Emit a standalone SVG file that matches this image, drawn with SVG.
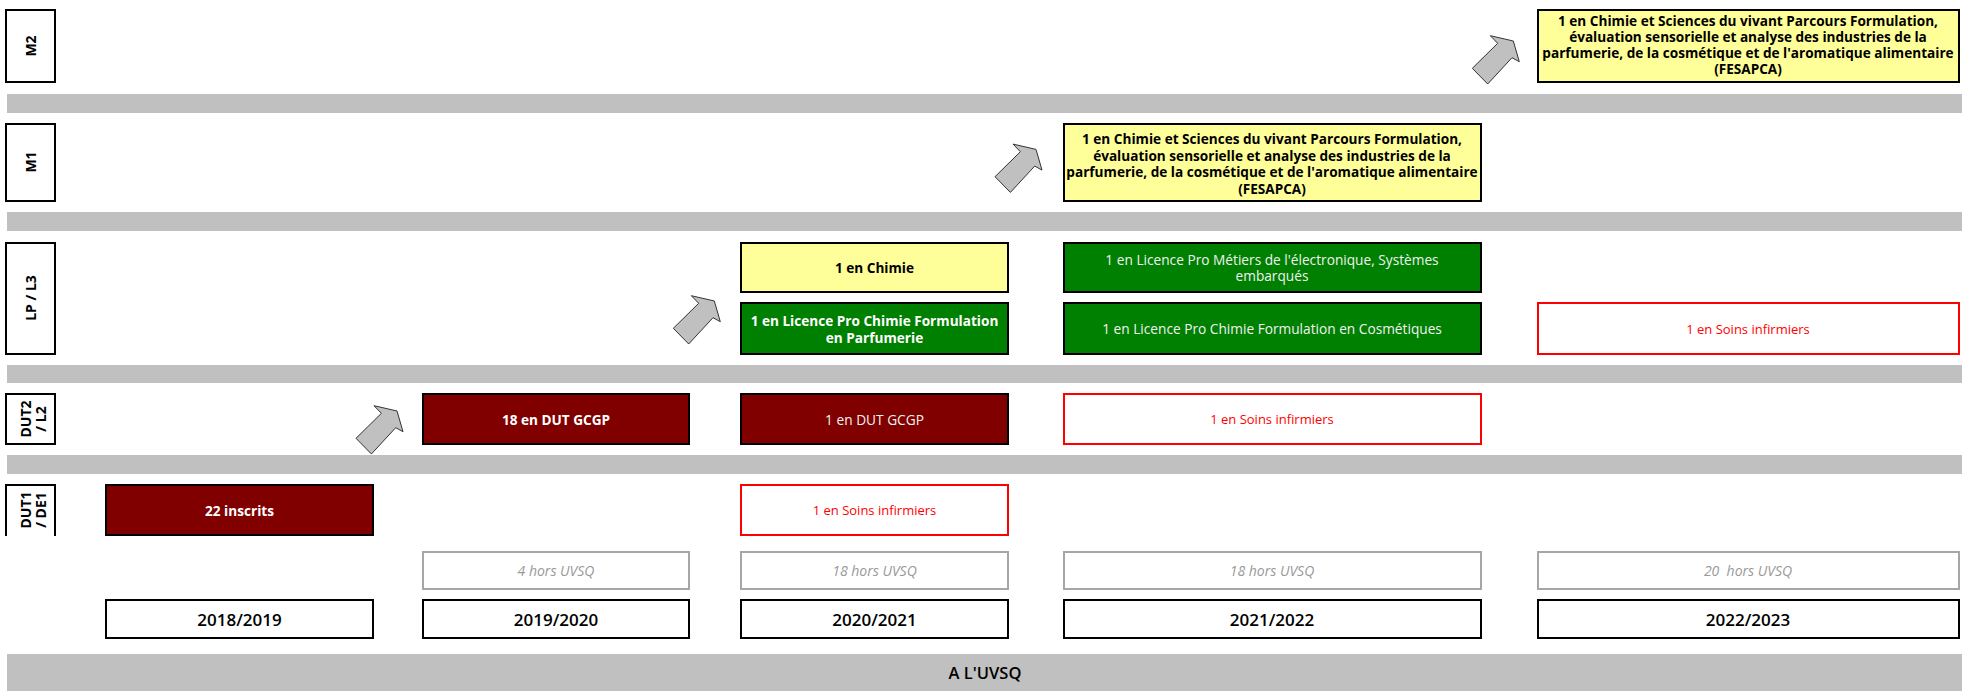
<svg xmlns="http://www.w3.org/2000/svg" width="1962" height="695" viewBox="0 0 1962 695">
<style>
text{font-family:"Open Sans","Liberation Sans",sans-serif;dominant-baseline:central;text-anchor:middle}
.band{fill:#c0c0c0}
.lab{fill:#fff;stroke:#000;stroke-width:2}
.labt{font-size:14px;font-weight:700;fill:#000}
.yel{fill:#ffff99;stroke:#000;stroke-width:2}
.grn{fill:#008000;stroke:#000;stroke-width:2}
.drd{fill:#800000;stroke:#000;stroke-width:2}
.red{fill:#fff;stroke:#ff0000;stroke-width:2}
.hors{fill:#fff;stroke:#a6a6a6;stroke-width:2}
.year{fill:#fff;stroke:#000;stroke-width:2}
.tb{font-size:13.6px;font-weight:700;fill:#000}
.tw{font-size:13.6px;font-weight:700;fill:#fff}
.tl{font-size:13.7px;fill:#f2f2f2}
.tr{font-size:13px;fill:#ff0000}
.th{font-size:14px;font-style:italic;fill:#999}
.ty{font-size:17px;font-weight:600;fill:#000}
.arr{fill:#c0c0c0;stroke:#333;stroke-width:1;stroke-linejoin:miter}
</style>
<defs>
<polygon id="arrow" class="arr" points="0,0 25.4,-25 18,-32.6 41,-27.3 47,-6.6 39.7,-10.6 15.4,15.7"/>
</defs>
<g id="bands">
<rect class="band" x="7" y="94" width="1955" height="19"/>
<rect class="band" x="7" y="212" width="1955" height="19"/>
<rect class="band" x="7" y="365" width="1955" height="18"/>
<rect class="band" x="7" y="455" width="1955" height="19"/>
<rect class="band" x="7" y="654" width="1955" height="37"/>
<text x="985" y="672.5" style="font-size:16.5px;font-weight:600;fill:#000">A L'UVSQ</text>
</g>
<g id="label-m2"><rect class="lab" x="6" y="10" width="49" height="72"/><text class="labt" transform="translate(30,46) rotate(-90)">M2</text></g>
<g id="label-m1"><rect class="lab" x="6" y="124" width="49" height="77"/><text class="labt" transform="translate(30,162) rotate(-90)">M1</text></g>
<g id="label-lp"><rect class="lab" x="6" y="243" width="49" height="111"/><text class="labt" transform="translate(30,298) rotate(-90)">LP / L3</text></g>
<g id="label-dut2"><rect class="lab" x="6" y="394" width="49" height="50"/><text class="labt" transform="translate(25.5,419) rotate(-90)">DUT2</text><text class="labt" transform="translate(40,419) rotate(-90)">/ L2</text></g>
<g id="label-dut1"><path d="M6,536 V485 H55 V536" fill="#fff" stroke="#000" stroke-width="2"/><text class="labt" transform="translate(25.5,510) rotate(-90)">DUT1</text><text class="labt" transform="translate(40,510) rotate(-90)">/ DE1</text></g>

<g id="m2-fesapca"><rect class="yel" x="1538" y="10" width="421" height="72"/>
<text class="tb" x="1748" y="20">1 en Chimie et Sciences du vivant Parcours Formulation,</text>
<text class="tb" x="1748" y="36">évaluation sensorielle et analyse des industries de la</text>
<text class="tb" x="1748" y="52">parfumerie, de la cosmétique et de l'aromatique alimentaire</text>
<text class="tb" x="1748" y="68">(FESAPCA)</text></g>
<g id="m1-fesapca"><rect class="yel" x="1064" y="124" width="417" height="77"/>
<text class="tb" x="1272" y="138">1 en Chimie et Sciences du vivant Parcours Formulation,</text>
<text class="tb" x="1272" y="155">évaluation sensorielle et analyse des industries de la</text>
<text class="tb" x="1272" y="171.5">parfumerie, de la cosmétique et de l'aromatique alimentaire</text>
<text class="tb" x="1272" y="188.5">(FESAPCA)</text></g>

<g id="lp-chimie"><rect class="yel" x="741" y="243" width="267" height="49"/><text class="tb" x="874.5" y="267.5">1 en Chimie</text></g>
<g id="lp-parfumerie"><rect class="grn" x="741" y="303" width="267" height="51"/><text class="tw" x="874.5" y="320.5">1 en Licence Pro Chimie Formulation</text><text class="tw" x="874.5" y="337">en Parfumerie</text></g>
<g id="lp-electronique"><rect class="grn" x="1064" y="243" width="417" height="49"/><text class="tl" x="1272" y="259.5">1 en Licence Pro Métiers de l'électronique, Systèmes</text><text class="tl" x="1272" y="275.5">embarqués</text></g>
<g id="lp-cosmetiques"><rect class="grn" x="1064" y="303" width="417" height="51"/><text class="tl" x="1272" y="328.5">1 en Licence Pro Chimie Formulation en Cosmétiques</text></g>
<g id="lp-soins"><rect class="red" x="1538" y="303" width="421" height="51"/><text class="tr" x="1748" y="328.5">1 en Soins infirmiers</text></g>

<g id="dut2-gcgp18"><rect class="drd" x="423" y="394" width="266" height="50"/><text class="tw" x="556" y="419">18 en DUT GCGP</text></g>
<g id="dut2-gcgp1"><rect class="drd" x="741" y="394" width="267" height="50"/><text class="tl" x="874.5" y="419">1 en DUT GCGP</text></g>
<g id="dut2-soins"><rect class="red" x="1064" y="394" width="417" height="50"/><text class="tr" x="1272" y="419">1 en Soins infirmiers</text></g>

<g id="dut1-inscrits"><rect class="drd" x="106" y="485" width="267" height="50"/><text class="tw" x="239.5" y="510">22 inscrits</text></g>
<g id="dut1-soins"><rect class="red" x="741" y="485" width="267" height="50"/><text class="tr" x="874.5" y="510">1 en Soins infirmiers</text></g>

<g id="hors-2019"><rect class="hors" x="423" y="552" width="266" height="37"/><text class="th" x="556" y="570">4 hors UVSQ</text></g>
<g id="hors-2020"><rect class="hors" x="741" y="552" width="267" height="37"/><text class="th" x="874.5" y="570">18 hors UVSQ</text></g>
<g id="hors-2021"><rect class="hors" x="1064" y="552" width="417" height="37"/><text class="th" x="1272" y="570">18 hors UVSQ</text></g>
<g id="hors-2022"><rect class="hors" x="1538" y="552" width="421" height="37"/><text class="th" x="1748" y="570" xml:space="preserve">20  hors UVSQ</text></g>

<g id="year-2018"><rect class="year" x="106" y="600" width="267" height="38"/><text class="ty" x="239.5" y="619">2018/2019</text></g>
<g id="year-2019"><rect class="year" x="423" y="600" width="266" height="38"/><text class="ty" x="556" y="619">2019/2020</text></g>
<g id="year-2020"><rect class="year" x="741" y="600" width="267" height="38"/><text class="ty" x="874.5" y="619">2020/2021</text></g>
<g id="year-2021"><rect class="year" x="1064" y="600" width="417" height="38"/><text class="ty" x="1272" y="619">2021/2022</text></g>
<g id="year-2022"><rect class="year" x="1538" y="600" width="421" height="38"/><text class="ty" x="1748" y="619">2022/2023</text></g>

<g id="connectors">
<use href="#arrow" transform="translate(356,438.3)"/>
<use href="#arrow" transform="translate(673.3,328.3)"/>
<use href="#arrow" transform="translate(995,176.7)"/>
<use href="#arrow" transform="translate(1472.3,68.3)"/>
</g>
</svg>
